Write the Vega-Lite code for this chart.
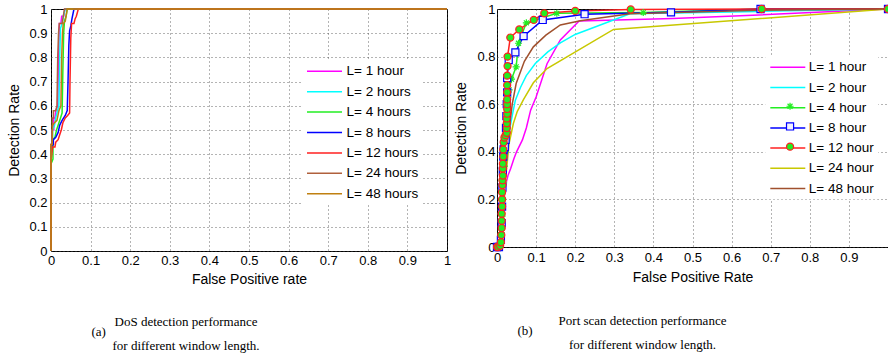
{
"$schema":"https://vega.github.io/schema/vega-lite/v6.json",
"background":"white",
"padding":{"left":7,"top":2,"right":0,"bottom":0},
"spacing":2,
"config":{
 "view":{"stroke":"black","strokeWidth":1},
 "axis":{"labelFont":"Liberation Sans","labelFontSize":13,"labelColor":"black","titleFont":"Liberation Sans","titleFontSize":14,"titleFontWeight":"normal","titleColor":"black","domain":false,"ticks":false,"grid":true,"gridColor":"#444","gridDash":[1,3],"gridOpacity":0.8,"labelFlush":false},
 "legend":{"labelFont":"Liberation Sans","labelFontSize":13.5,"labelColor":"black","labelLimit":200},
 "title":{"font":"Liberation Serif","fontSize":13,"fontWeight":"normal","color":"black","offset":0}
},
"resolve":{"scale":{"color":"independent","shape":"independent","stroke":"independent","fill":"independent"},"legend":{"color":"independent","shape":"independent","stroke":"independent","fill":"independent"}},
"datasets":{
"dos":[
{"s":"L= 1 hour","x":0,"y":0},{"s":"L= 1 hour","x":0,"y":0.44},{"s":"L= 1 hour","x":0.003,"y":0.44},{"s":"L= 1 hour","x":0.003,"y":0.5},{"s":"L= 1 hour","x":0.007,"y":0.5},{"s":"L= 1 hour","x":0.007,"y":0.55},{"s":"L= 1 hour","x":0.01,"y":0.55},{"s":"L= 1 hour","x":0.012,"y":0.58},{"s":"L= 1 hour","x":0.017,"y":0.6},{"s":"L= 1 hour","x":0.019,"y":0.8},{"s":"L= 1 hour","x":0.021,"y":0.94},{"s":"L= 1 hour","x":0.025,"y":0.94},{"s":"L= 1 hour","x":0.027,"y":0.97},{"s":"L= 1 hour","x":0.032,"y":0.97},{"s":"L= 1 hour","x":0.035,"y":1},{"s":"L= 1 hour","x":1,"y":1},
{"s":"L= 2 hours","x":0,"y":0},{"s":"L= 2 hours","x":0,"y":0.43},{"s":"L= 2 hours","x":0.004,"y":0.43},{"s":"L= 2 hours","x":0.004,"y":0.5},{"s":"L= 2 hours","x":0.009,"y":0.52},{"s":"L= 2 hours","x":0.012,"y":0.55},{"s":"L= 2 hours","x":0.015,"y":0.57},{"s":"L= 2 hours","x":0.02,"y":0.6},{"s":"L= 2 hours","x":0.022,"y":0.8},{"s":"L= 2 hours","x":0.024,"y":0.92},{"s":"L= 2 hours","x":0.028,"y":0.94},{"s":"L= 2 hours","x":0.031,"y":0.97},{"s":"L= 2 hours","x":0.036,"y":1},{"s":"L= 2 hours","x":1,"y":1},
{"s":"L= 4 hours","x":0,"y":0},{"s":"L= 4 hours","x":0,"y":0.36},{"s":"L= 4 hours","x":0.005,"y":0.38},{"s":"L= 4 hours","x":0.005,"y":0.46},{"s":"L= 4 hours","x":0.01,"y":0.47},{"s":"L= 4 hours","x":0.014,"y":0.5},{"s":"L= 4 hours","x":0.018,"y":0.52},{"s":"L= 4 hours","x":0.024,"y":0.55},{"s":"L= 4 hours","x":0.028,"y":0.57},{"s":"L= 4 hours","x":0.03,"y":0.75},{"s":"L= 4 hours","x":0.032,"y":0.9},{"s":"L= 4 hours","x":0.034,"y":0.95},{"s":"L= 4 hours","x":0.038,"y":0.97},{"s":"L= 4 hours","x":0.041,"y":1},{"s":"L= 4 hours","x":1,"y":1},
{"s":"L= 8 hours","x":0,"y":0},{"s":"L= 8 hours","x":0,"y":0.43},{"s":"L= 8 hours","x":0.006,"y":0.44},{"s":"L= 8 hours","x":0.006,"y":0.46},{"s":"L= 8 hours","x":0.012,"y":0.47},{"s":"L= 8 hours","x":0.018,"y":0.49},{"s":"L= 8 hours","x":0.022,"y":0.52},{"s":"L= 8 hours","x":0.028,"y":0.54},{"s":"L= 8 hours","x":0.036,"y":0.56},{"s":"L= 8 hours","x":0.041,"y":0.58},{"s":"L= 8 hours","x":0.043,"y":0.7},{"s":"L= 8 hours","x":0.045,"y":0.85},{"s":"L= 8 hours","x":0.047,"y":0.91},{"s":"L= 8 hours","x":0.05,"y":0.93},{"s":"L= 8 hours","x":0.053,"y":0.96},{"s":"L= 8 hours","x":0.058,"y":1},{"s":"L= 8 hours","x":1,"y":1},
{"s":"L= 12 hours","x":0,"y":0},{"s":"L= 12 hours","x":0,"y":0.37},{"s":"L= 12 hours","x":0.004,"y":0.43},{"s":"L= 12 hours","x":0.01,"y":0.43},{"s":"L= 12 hours","x":0.012,"y":0.45},{"s":"L= 12 hours","x":0.018,"y":0.46},{"s":"L= 12 hours","x":0.022,"y":0.48},{"s":"L= 12 hours","x":0.026,"y":0.5},{"s":"L= 12 hours","x":0.03,"y":0.53},{"s":"L= 12 hours","x":0.036,"y":0.55},{"s":"L= 12 hours","x":0.042,"y":0.56},{"s":"L= 12 hours","x":0.047,"y":0.57},{"s":"L= 12 hours","x":0.048,"y":0.7},{"s":"L= 12 hours","x":0.05,"y":0.88},{"s":"L= 12 hours","x":0.052,"y":0.94},{"s":"L= 12 hours","x":0.058,"y":0.94},{"s":"L= 12 hours","x":0.061,"y":0.96},{"s":"L= 12 hours","x":0.064,"y":0.97},{"s":"L= 12 hours","x":0.069,"y":1},{"s":"L= 12 hours","x":1,"y":1},
{"s":"L= 24 hours","x":0,"y":0},{"s":"L= 24 hours","x":0,"y":0.44},{"s":"L= 24 hours","x":0.003,"y":0.44},{"s":"L= 24 hours","x":0.003,"y":0.55},{"s":"L= 24 hours","x":0.006,"y":0.55},{"s":"L= 24 hours","x":0.006,"y":0.58},{"s":"L= 24 hours","x":0.012,"y":0.58},{"s":"L= 24 hours","x":0.015,"y":0.6},{"s":"L= 24 hours","x":0.017,"y":0.8},{"s":"L= 24 hours","x":0.019,"y":0.9},{"s":"L= 24 hours","x":0.021,"y":0.94},{"s":"L= 24 hours","x":0.028,"y":0.94},{"s":"L= 24 hours","x":0.031,"y":0.97},{"s":"L= 24 hours","x":0.034,"y":1},{"s":"L= 24 hours","x":1,"y":1},
{"s":"L= 48 hours","x":0,"y":0},{"s":"L= 48 hours","x":0,"y":0.44},{"s":"L= 48 hours","x":0.003,"y":0.44},{"s":"L= 48 hours","x":0.004,"y":0.52},{"s":"L= 48 hours","x":0.009,"y":0.53},{"s":"L= 48 hours","x":0.015,"y":0.54},{"s":"L= 48 hours","x":0.02,"y":0.58},{"s":"L= 48 hours","x":0.025,"y":0.6},{"s":"L= 48 hours","x":0.027,"y":0.8},{"s":"L= 48 hours","x":0.029,"y":0.9},{"s":"L= 48 hours","x":0.031,"y":0.94},{"s":"L= 48 hours","x":0.036,"y":0.95},{"s":"L= 48 hours","x":0.038,"y":0.97},{"s":"L= 48 hours","x":0.041,"y":1},{"s":"L= 48 hours","x":1,"y":1}
],
"port":[
{"s":"L= 1 hour","x":0,"y":0},{"s":"L= 1 hour","x":0.008,"y":0.005},{"s":"L= 1 hour","x":0.012,"y":0.05},{"s":"L= 1 hour","x":0.015,"y":0.12},{"s":"L= 1 hour","x":0.018,"y":0.2},{"s":"L= 1 hour","x":0.022,"y":0.26},{"s":"L= 1 hour","x":0.028,"y":0.3},{"s":"L= 1 hour","x":0.035,"y":0.33},{"s":"L= 1 hour","x":0.043,"y":0.37},{"s":"L= 1 hour","x":0.05,"y":0.4},{"s":"L= 1 hour","x":0.065,"y":0.45},{"s":"L= 1 hour","x":0.075,"y":0.5},{"s":"L= 1 hour","x":0.086,"y":0.575},{"s":"L= 1 hour","x":0.1,"y":0.63},{"s":"L= 1 hour","x":0.128,"y":0.77},{"s":"L= 1 hour","x":0.162,"y":0.87},{"s":"L= 1 hour","x":0.21,"y":0.95},{"s":"L= 1 hour","x":0.45,"y":0.96},{"s":"L= 1 hour","x":0.67,"y":0.975},{"s":"L= 1 hour","x":1,"y":1},
{"s":"L= 2 hour","x":0,"y":0},{"s":"L= 2 hour","x":0.008,"y":0.005},{"s":"L= 2 hour","x":0.012,"y":0.06},{"s":"L= 2 hour","x":0.015,"y":0.15},{"s":"L= 2 hour","x":0.018,"y":0.25},{"s":"L= 2 hour","x":0.022,"y":0.33},{"s":"L= 2 hour","x":0.027,"y":0.4},{"s":"L= 2 hour","x":0.033,"y":0.5},{"s":"L= 2 hour","x":0.04,"y":0.56},{"s":"L= 2 hour","x":0.047,"y":0.617},{"s":"L= 2 hour","x":0.06,"y":0.67},{"s":"L= 2 hour","x":0.075,"y":0.72},{"s":"L= 2 hour","x":0.098,"y":0.771},{"s":"L= 2 hour","x":0.13,"y":0.82},{"s":"L= 2 hour","x":0.162,"y":0.858},{"s":"L= 2 hour","x":0.2,"y":0.893},{"s":"L= 2 hour","x":0.34,"y":0.98},{"s":"L= 2 hour","x":0.67,"y":0.99},{"s":"L= 2 hour","x":1,"y":1},
{"s":"L= 4 hour","x":0,"y":0},{"s":"L= 4 hour","x":0.008,"y":0.01},{"s":"L= 4 hour","x":0.011,"y":0.06},{"s":"L= 4 hour","x":0.013,"y":0.13},{"s":"L= 4 hour","x":0.015,"y":0.2},{"s":"L= 4 hour","x":0.017,"y":0.27},{"s":"L= 4 hour","x":0.019,"y":0.34},{"s":"L= 4 hour","x":0.021,"y":0.4},{"s":"L= 4 hour","x":0.024,"y":0.45},{"s":"L= 4 hour","x":0.026,"y":0.52},{"s":"L= 4 hour","x":0.027,"y":0.58},{"s":"L= 4 hour","x":0.028,"y":0.63},{"s":"L= 4 hour","x":0.031,"y":0.66},{"s":"L= 4 hour","x":0.037,"y":0.705},{"s":"L= 4 hour","x":0.049,"y":0.757},{"s":"L= 4 hour","x":0.055,"y":0.856},{"s":"L= 4 hour","x":0.075,"y":0.942},{"s":"L= 4 hour","x":0.153,"y":0.982},{"s":"L= 4 hour","x":0.374,"y":0.985},{"s":"L= 4 hour","x":0.677,"y":1},{"s":"L= 4 hour","x":1,"y":1},
{"s":"L= 8 hour","x":0,"y":0},{"s":"L= 8 hour","x":0.005,"y":0},{"s":"L= 8 hour","x":0.01,"y":0.03},{"s":"L= 8 hour","x":0.012,"y":0.1},{"s":"L= 8 hour","x":0.013,"y":0.17},{"s":"L= 8 hour","x":0.014,"y":0.25},{"s":"L= 8 hour","x":0.015,"y":0.32},{"s":"L= 8 hour","x":0.016,"y":0.38},{"s":"L= 8 hour","x":0.017,"y":0.41},{"s":"L= 8 hour","x":0.02,"y":0.42},{"s":"L= 8 hour","x":0.022,"y":0.45},{"s":"L= 8 hour","x":0.023,"y":0.5},{"s":"L= 8 hour","x":0.024,"y":0.55},{"s":"L= 8 hour","x":0.025,"y":0.6},{"s":"L= 8 hour","x":0.026,"y":0.65},{"s":"L= 8 hour","x":0.026,"y":0.71},{"s":"L= 8 hour","x":0.03,"y":0.785},{"s":"L= 8 hour","x":0.047,"y":0.818},{"s":"L= 8 hour","x":0.068,"y":0.886},{"s":"L= 8 hour","x":0.117,"y":0.954},{"s":"L= 8 hour","x":0.224,"y":0.978},{"s":"L= 8 hour","x":0.445,"y":0.986},{"s":"L= 8 hour","x":0.674,"y":1},{"s":"L= 8 hour","x":1,"y":1},
{"s":"L= 12 hour","x":0,"y":0},{"s":"L= 12 hour","x":0.003,"y":0},{"s":"L= 12 hour","x":0.008,"y":0.005},{"s":"L= 12 hour","x":0.01,"y":0.02},{"s":"L= 12 hour","x":0.011,"y":0.05},{"s":"L= 12 hour","x":0.012,"y":0.08},{"s":"L= 12 hour","x":0.012,"y":0.11},{"s":"L= 12 hour","x":0.012,"y":0.14},{"s":"L= 12 hour","x":0.013,"y":0.17},{"s":"L= 12 hour","x":0.013,"y":0.2},{"s":"L= 12 hour","x":0.013,"y":0.23},{"s":"L= 12 hour","x":0.014,"y":0.26},{"s":"L= 12 hour","x":0.014,"y":0.28},{"s":"L= 12 hour","x":0.015,"y":0.3},{"s":"L= 12 hour","x":0.015,"y":0.33},{"s":"L= 12 hour","x":0.015,"y":0.35},{"s":"L= 12 hour","x":0.016,"y":0.38},{"s":"L= 12 hour","x":0.016,"y":0.41},{"s":"L= 12 hour","x":0.017,"y":0.44},{"s":"L= 12 hour","x":0.019,"y":0.46},{"s":"L= 12 hour","x":0.022,"y":0.47},{"s":"L= 12 hour","x":0.025,"y":0.48},{"s":"L= 12 hour","x":0.025,"y":0.5},{"s":"L= 12 hour","x":0.025,"y":0.52},{"s":"L= 12 hour","x":0.025,"y":0.54},{"s":"L= 12 hour","x":0.026,"y":0.56},{"s":"L= 12 hour","x":0.026,"y":0.58},{"s":"L= 12 hour","x":0.026,"y":0.6},{"s":"L= 12 hour","x":0.026,"y":0.62},{"s":"L= 12 hour","x":0.026,"y":0.65},{"s":"L= 12 hour","x":0.026,"y":0.68},{"s":"L= 12 hour","x":0.026,"y":0.72},{"s":"L= 12 hour","x":0.027,"y":0.76},{"s":"L= 12 hour","x":0.027,"y":0.8},{"s":"L= 12 hour","x":0.034,"y":0.88},{"s":"L= 12 hour","x":0.057,"y":0.914},{"s":"L= 12 hour","x":0.094,"y":0.954},{"s":"L= 12 hour","x":0.121,"y":0.982},{"s":"L= 12 hour","x":0.2,"y":0.992},{"s":"L= 12 hour","x":0.342,"y":0.998},{"s":"L= 12 hour","x":0.677,"y":1},{"s":"L= 12 hour","x":1,"y":1},
{"s":"L= 24 hour","x":0,"y":0},{"s":"L= 24 hour","x":0.008,"y":0.005},{"s":"L= 24 hour","x":0.012,"y":0.05},{"s":"L= 24 hour","x":0.016,"y":0.15},{"s":"L= 24 hour","x":0.02,"y":0.24},{"s":"L= 24 hour","x":0.024,"y":0.32},{"s":"L= 24 hour","x":0.031,"y":0.436},{"s":"L= 24 hour","x":0.042,"y":0.52},{"s":"L= 24 hour","x":0.052,"y":0.57},{"s":"L= 24 hour","x":0.068,"y":0.62},{"s":"L= 24 hour","x":0.093,"y":0.69},{"s":"L= 24 hour","x":0.128,"y":0.75},{"s":"L= 24 hour","x":0.298,"y":0.914},{"s":"L= 24 hour","x":1,"y":1},
{"s":"L= 48 hour","x":0,"y":0},{"s":"L= 48 hour","x":0.008,"y":0.005},{"s":"L= 48 hour","x":0.012,"y":0.06},{"s":"L= 48 hour","x":0.015,"y":0.15},{"s":"L= 48 hour","x":0.018,"y":0.25},{"s":"L= 48 hour","x":0.022,"y":0.35},{"s":"L= 48 hour","x":0.027,"y":0.45},{"s":"L= 48 hour","x":0.033,"y":0.52},{"s":"L= 48 hour","x":0.039,"y":0.6},{"s":"L= 48 hour","x":0.049,"y":0.687},{"s":"L= 48 hour","x":0.07,"y":0.78},{"s":"L= 48 hour","x":0.093,"y":0.841},{"s":"L= 48 hour","x":0.125,"y":0.89},{"s":"L= 48 hour","x":0.162,"y":0.933},{"s":"L= 48 hour","x":0.213,"y":0.951},{"s":"L= 48 hour","x":0.34,"y":0.98},{"s":"L= 48 hour","x":0.67,"y":0.995},{"s":"L= 48 hour","x":1,"y":1}
]
},
"hconcat":[
{
 "title":{"text":"(a)","orient":"bottom","anchor":"start","frame":"bounds","dx":84,"dy":-32},
 "vconcat":[{
  "width":396,"height":242,
  "title":{"text":["DoS detection performance","for different window length."],"orient":"bottom","anchor":"middle","frame":"group","dx":-63,"offset":30,"lineHeight":24},
  "data":{"name":"dos"},
  "mark":{"type":"line","strokeWidth":1.5},
  "encoding":{
   "x":{"field":"x","type":"quantitative","scale":{"domain":[0,1]},"axis":{"title":"False Positive rate","values":[0,0.1,0.2,0.3,0.4,0.5,0.6,0.7,0.8,0.9,1],"format":"~g","labelPadding":3,"titlePadding":5}},
   "y":{"field":"y","type":"quantitative","scale":{"domain":[0,1]},"axis":{"title":"Detection Rate","values":[0,0.1,0.2,0.3,0.4,0.5,0.6,0.7,0.8,0.9,1],"format":"~g","labelPadding":4,"titlePadding":7}},
   "color":{"field":"s","type":"nominal","scale":{"domain":["L= 1 hour","L= 2 hours","L= 4 hours","L= 8 hours","L= 12 hours","L= 24 hours","L= 48 hours"],"range":["#ff00ff","#00ffff","#22ee22","#0000ff","#ff2020","#b0603c","#c08010"]},
     "legend":{"title":null,"orient":"none","legendX":251,"legendY":50.3,"symbolType":"M-2.5,0L2.5,0","symbolSize":196,"symbolOffset":10.5,"symbolStrokeWidth":1.5,"labelOffset":14,"rowPadding":5.4,"padding":4,"fillColor":"white"}},
   "order":{"value":null}
  }
 }]
},
{
 "title":{"text":"(b)","orient":"bottom","anchor":"start","frame":"bounds","dx":63,"dy":-32},
 "vconcat":[{
  "width":391,"height":238,
  "title":{"text":["Port scan detection performance","for different window length."],"orient":"bottom","anchor":"middle","frame":"group","dx":-50,"offset":31,"lineHeight":24},
  "data":{"name":"port"},
  "layer":[
   {"mark":{"type":"line","strokeWidth":1.5},
    "encoding":{
     "x":{"field":"x","type":"quantitative","scale":{"domain":[0,1]},"axis":{"title":"False Positive Rate","values":[0,0.1,0.2,0.3,0.4,0.5,0.6,0.7,0.8,0.9],"format":"~g","labelPadding":4,"titlePadding":6}},
     "y":{"field":"y","type":"quantitative","scale":{"domain":[0,1]},"axis":{"title":"Detection Rate","values":[0,0.2,0.4,0.6,0.8,1],"format":"~g","labelPadding":2,"titlePadding":8}},
     "color":{"field":"s","type":"nominal","scale":{"domain":["L= 1 hour","L= 2 hour","L= 4 hour","L= 8 hour","L= 12 hour","L= 24 hour","L= 48 hour"],"range":["#ff00ff","#00ffff","#22ee22","#0000ff","#ff2020","#c8c800","#a0502d"]},
       "legend":{"title":null,"orient":"none","legendX":268.3,"legendY":46.3,"symbolType":"M-2.5,0L2.5,0","symbolSize":196,"symbolOffset":10.5,"symbolStrokeWidth":1.5,"labelOffset":13,"rowPadding":5.2,"padding":4,"fillColor":"white"}},
     "order":{"value":null}
    }},
   {"transform":[{"filter":{"field":"s","oneOf":["L= 4 hour","L= 8 hour","L= 12 hour"]}}],
    "mark":{"type":"point","opacity":1,"strokeWidth":1.2,"size":50},
    "encoding":{
     "x":{"field":"x","type":"quantitative"},
     "y":{"field":"y","type":"quantitative"},
     "shape":{"field":"s","type":"nominal","scale":{"domain":["L= 4 hour","L= 8 hour","L= 12 hour"],"range":["M0,-1L0,1M-1,0L1,0M-0.7,-0.7L0.7,0.7M-0.7,0.7L0.7,-0.7","square","circle"]},
       "legend":{"title":null,"orient":"none","legendX":286.3,"legendY":90.5,"symbolSize":50,"symbolStrokeWidth":1.2,"labelExpr":"''","labelFontSize":13.5,"rowPadding":5.2,"padding":0}},
     "stroke":{"field":"s","type":"nominal","scale":{"domain":["L= 4 hour","L= 8 hour","L= 12 hour"],"range":["#22ee22","#0000ff","#ff2020"]},
       "legend":{"title":null,"orient":"none","legendX":286.3,"legendY":90.5,"symbolSize":50,"symbolStrokeWidth":1.2,"labelExpr":"''","labelFontSize":13.5,"rowPadding":5.2,"padding":0}},
     "fill":{"field":"s","type":"nominal","scale":{"domain":["L= 4 hour","L= 8 hour","L= 12 hour"],"range":["#22ee22","#f4f4ff","#22ee22"]},
       "legend":{"title":null,"orient":"none","legendX":286.3,"legendY":90.5,"symbolSize":50,"symbolStrokeWidth":1.2,"labelExpr":"''","labelFontSize":13.5,"rowPadding":5.2,"padding":0}}
    }}
  ]
 }]
}
]
}
